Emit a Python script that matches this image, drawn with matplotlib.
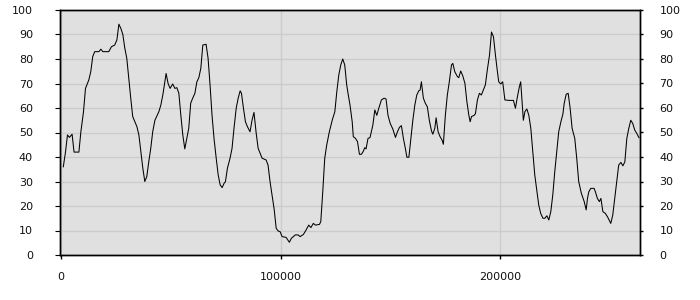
import matplotlib
matplotlib.use("Agg")
import matplotlib.pyplot as plt

x_vals = [1000, 2000, 2900, 3800, 5000, 5900, 8100, 9000, 10200, 11100, 12600, 13500, 14400, 15300,
          17200, 18100, 19000, 21700, 22900, 24400, 25400, 26300, 27200, 28100, 29000, 29900, 30800,
          31700, 32600, 34500, 35400, 36300, 37200, 38100, 39000, 39900, 40800, 41700, 42700, 44500,
          45400, 46300, 47200, 47800, 48700, 49600, 50800, 51800, 52700, 53600, 54500, 55400, 56300,
          57200, 58100, 59000, 59900, 60900, 61800, 62700, 63600, 64500, 66000, 66900, 67800, 68700,
          69600, 70600, 71500, 72400, 73300, 74200, 74800, 75700, 76900, 77800, 78700, 79700, 80600,
          81500, 82100, 83000, 83900, 84800, 86000, 86900, 87800, 88800, 89700, 90600, 91500, 93300,
          94200, 95100, 96000, 97000, 97900, 98800, 99700, 100600, 102400, 103900, 104800, 106600,
          107900, 108800, 110300, 111500, 112700, 113700, 114800, 115800, 117600, 118200, 119100,
          120000, 120900, 122100, 123400, 124600, 125500, 126400, 127300, 128200, 129100, 130000,
          130600, 131500, 132500, 133000, 134000, 134900, 135800, 136700, 137600, 138200, 138800,
          139700, 140600, 141900, 142800, 143700, 144600, 145800, 147000, 147900, 148800, 149800,
          151000, 152200, 153100, 154000, 154900, 155800, 156700, 157400, 158300, 159200, 160100,
          161000, 161900, 162800, 163400, 164000, 164900, 165800, 166700, 167600, 168600, 169200,
          170100, 170700, 171600, 172500, 173400, 174000, 174900, 175800, 176700, 177700, 178300,
          179200, 180400, 181000, 181900, 182800, 183800, 184700, 185600, 186200, 186800, 188000,
          188600, 189500, 190400, 191300, 192200, 193100, 194000, 195000, 195900, 196800, 197700,
          198600, 199200, 200100, 201000, 202000, 203800, 205900, 206800, 207700, 208600, 209200,
          209800, 210400, 211100, 212000, 212900, 213800, 214700, 215600, 216500, 217400, 218300,
          219300, 220200, 221100, 222000, 222900, 223800, 224700, 225600, 226500, 227500, 228400,
          229000, 229900, 230800, 231700, 232600, 233800, 234700, 235600, 236800, 238100, 239000,
          239600, 240200, 241100, 242600, 243200, 244100, 245000, 245700, 246600, 247700, 248700,
          250200, 251100, 252000, 252900, 253800, 254800, 255700, 256600, 257500, 258400, 259300,
          260200, 261100, 262000, 263000]

y_vals = [36, 42, 49, 48, 49.3, 42, 42, 50.3, 58.5, 68, 71.4, 74.8, 81, 83,
          83, 84, 83, 83, 85, 85.7, 87.8, 94.2, 92.5, 90, 84.4, 80.3, 72,
          64, 56.5, 52.4, 49, 42.2, 35.4, 30, 32, 38, 43.5, 50.3, 55, 58.5,
          61.2, 65.3, 70.7, 74.1, 70, 68, 69.8, 68, 68.3, 66, 57, 49, 43.3,
          47.6, 51.7, 62, 64, 66, 70.7, 72.4, 76.2, 85.7, 86, 80.3, 69.4, 57,
          47.6, 39.5, 32.7, 28.6, 27.5, 29.3, 29.9, 35.4, 39.5, 43.5, 51.7, 59.9, 64,
          67, 66, 59.9, 54.4, 52.4, 50.3, 55, 58.2, 49.7, 43.5, 41.5, 39.5, 38.8,
          36.7, 30, 24.5, 18.5, 10.9, 9.8, 9.5, 7.5, 7.2, 5.2, 6.8, 8.2,
          8.2, 7.5, 8.4, 10.2, 12.2, 11.2, 12.9, 12.2, 12.5, 13.6, 25.8,
          39.5, 44.9, 50.3, 55, 58.5, 66.7, 73.5, 77.6, 80, 77.6, 69.4,
          66, 61.2, 54.4, 48.3, 47.6, 46.3, 41.1, 41.1, 42.4, 43.8, 43.3,
          47.6, 47.9, 53, 59.2, 57, 59.9, 63.3, 64, 63.7, 57, 53.7,
          51.4, 48, 50.3, 52.1, 52.8, 47.6, 43.5, 39.9, 39.9, 47.6, 55,
          61.2, 65.3, 67, 67.3, 70.7, 64, 61.9, 60.5, 55, 50.6, 49.3,
          51.7, 56, 50.3, 48.3, 46.9, 45.2, 57, 65.3, 70.7, 77.6, 78.2,
          74.8, 72.8, 72.4, 75.1, 73.2, 70.1, 62.6, 57, 54.4, 56.5, 57,
          57.7, 63.3, 66, 65.3, 67.3, 69.4, 75.5, 81.6, 91, 89.1, 81.6,
          74.8, 70.7, 69.8, 70.7, 63.3, 63.1, 63.1, 59.9, 64.6, 68.7, 70.7,
          62.6, 55, 58.5, 59.6, 57, 51.7, 42.2, 32.7, 26.5, 20.4, 17,
          15, 15, 16, 14.3, 17.7, 24.5, 34, 42.2, 50.3, 54.4, 57.5,
          61.9, 65.6, 66, 59.9, 51.7, 47.6, 39.5, 30, 25.2, 21.8, 18.4,
          23.1, 25.8, 27.2, 27.2, 25.8, 23.1, 21.8, 23.1, 17.7, 17, 15.6,
          12.9, 16.3, 23.1, 30, 36.7, 37.8, 36.4, 38, 47.6, 51.7, 55,
          53.7, 51, 49.7, 47.9]

x_ticks = [0, 100000, 200000]
y_ticks = [0, 10, 20, 30, 40, 50, 60, 70, 80, 90, 100]

fig = plt.figure(figsize=(7, 3), dpi=100)
ax = fig.add_axes([60 / 700, 45 / 300, 580 / 700, 245 / 300])
ax.set_facecolor("#e0e0e0")
ax.plot(x_vals, y_vals, color="black", linewidth=0.75)

ax.set_xlim(-500, 263500)
ax.set_ylim(0, 100)
ax.set_xticks(x_ticks)
ax.set_xticklabels([str(t) for t in x_ticks])
ax.set_yticks(y_ticks)
ax.set_yticklabels([str(t) for t in y_ticks])

ax.grid(True, color="#cccccc", linewidth=1.0)
ax.set_axisbelow(True)

for s in ax.spines.values():
    s.set_color("black")
    s.set_linewidth(1.0)

ax.tick_params(axis="x", direction="out", length=3, width=1, pad=9,
               labelsize=8, labelcolor="#111111")
ax.tick_params(axis="y", left=False, right=False, labelleft=True, labelright=False,
               pad=16, labelsize=8, labelcolor="#111111")

ax2 = ax.twinx()
ax2.set_ylim(0, 100)
ax2.set_yticks(y_ticks)
ax2.set_yticklabels([str(t) for t in y_ticks])
ax2.tick_params(axis="y", direction="out", length=2, width=1, pad=12,
                labelsize=8, labelcolor="#111111")
for s in ax2.spines.values():
    s.set_color("black")
    s.set_linewidth(1.0)

fig.savefig("out.png", dpi=100)
